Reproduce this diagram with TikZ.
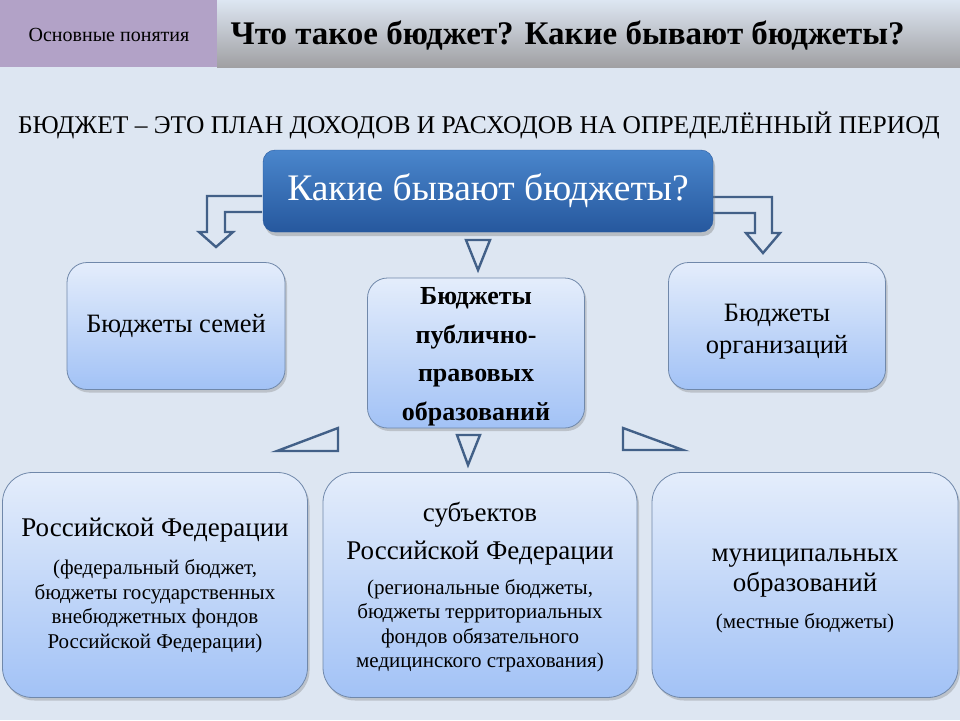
\documentclass[tikz,border=0pt]{standalone}
\usepackage{fontspec}
\setmainfont{Liberation Serif}
\usetikzlibrary{positioning, shadows, calc}

\definecolor{bgblue}{RGB}{221,230,242}
\definecolor{headpurple}{RGB}{178,162,199}
\definecolor{headgray}{RGB}{160,160,163}
\definecolor{arrowblue}{RGB}{66,96,136}
\definecolor{boxtop}{RGB}{228,237,251}
\definecolor{boxbottom}{RGB}{162,194,246}
\definecolor{boxline}{RGB}{112,136,170}
\definecolor{darktop}{RGB}{74,134,204}
\definecolor{darkbottom}{RGB}{38,88,158}

\begin{document}
\begin{tikzpicture}[x=1pt, y=-1pt,
    kind/.style={draw=boxline, line width=.8pt, rounded corners=20pt,
      top color=boxtop, bottom color=boxbottom, align=center, inner sep=0pt,
      drop shadow={opacity=.35, shadow xshift=2pt, shadow yshift=-3pt}},
    level/.style={kind, rounded corners=30pt, font=\fontsize{21}{24.5}\selectfont},
    hollow/.style={draw=arrowblue, line width=2.4pt, fill=bgblue, line join=miter}]

  % Background and header
  \useasboundingbox (0,0) rectangle (960,720);
  \fill[bgblue] (0,0) rectangle (960,720);
  \shade[top color=bgblue, bottom color=headgray] (217,0) rectangle (960,67);
  \fill[headpurple] (0,0) rectangle (217,67);
  \node[font=\fontsize{20}{20}\selectfont] (section) at (109,35) {Основные понятия};
  \node[font=\bfseries\fontsize{33}{33}\selectfont, anchor=west] (title) at (227,36)
    {Что такое бюджет? Какие бывают бюджеты?};
  \node[font=\fontsize{25.5}{25.5}\selectfont] (defn) at (479,125)
    {БЮДЖЕТ – ЭТО ПЛАН ДОХОДОВ И РАСХОДОВ НА ОПРЕДЕЛЁННЫЙ ПЕРИОД};

  % Arrows from the question
  \draw[hollow] (262,196) -- (207,196) -- (207,232) -- (199,232) -- (216,247)
    -- (233,232) -- (225,232) -- (225,212) -- (262,212);
  \draw[hollow] (713,197) -- (772,197) -- (772,233) -- (780,233) -- (763,253)
    -- (746,233) -- (755,233) -- (755,213) -- (713,213);
  \draw[hollow] (466,240) -- (490,240) -- (478,270) -- cycle;

  % Question
  \node[draw=darkbottom, rounded corners=12pt, top color=darktop, bottom color=darkbottom,
    minimum width=450, minimum height=82, text=white, font=\fontsize{37.5}{37.5}\selectfont,
    drop shadow={opacity=.4, shadow xshift=2pt, shadow yshift=-4pt}]
    (question) at (488,191) {Какие бывают бюджеты?};

  % Kinds of budgets
  \node[kind, minimum width=218, minimum height=127, font=\fontsize{26.5}{30}\selectfont]
    (family) at (176,326) {Бюджеты семей};
  \node[kind, minimum width=217, minimum height=150, font=\bfseries\fontsize{26}{38.5}\selectfont]
    (public) at (476,353) {\rule{0pt}{25pt}Бюджеты\\публично-\\правовых\\образований};
  \node[kind, minimum width=217, minimum height=127, font=\fontsize{26.5}{32}\selectfont]
    (company) at (777,326) {\rule{0pt}{28pt}Бюджеты\\организаций};

  % Arrows to the levels
  \draw[hollow] (277,451) -- (338,428) -- (338,451) -- cycle;
  \draw[hollow] (457,435) -- (480,435) -- (468,465) -- cycle;
  \draw[hollow] (623,428) -- (623,450) -- (683,450) -- cycle;

  % Levels of public budgets
  \node[level, minimum width=305, minimum height=225] (federal) at (155,585)
    {{\fontsize{27}{30}\selectfont Российской Федерации}\\[14pt]
     (федеральный бюджет,\\бюджеты государственных\\внебюджетных фондов\\Российской Федерации)};
  \node[level, minimum width=314, minimum height=225] (region) at (480,585)
    {{\fontsize{27}{30}\selectfont \rule{0pt}{23pt}субъектов}\\[14pt]
     {\fontsize{27}{30}\selectfont Российской Федерации}\\[10pt]
     (региональные бюджеты,\\бюджеты территориальных\\фондов обязательного\\медицинского страхования)};
  \node[level, minimum width=306, minimum height=225] (local) at (805,585)
    {{\fontsize{27}{30}\selectfont \rule{0pt}{24pt}муниципальных}\\[4pt]
     {\fontsize{27}{30}\selectfont образований}\\[12pt]
     (местные бюджеты)};
\end{tikzpicture}
\end{document}
